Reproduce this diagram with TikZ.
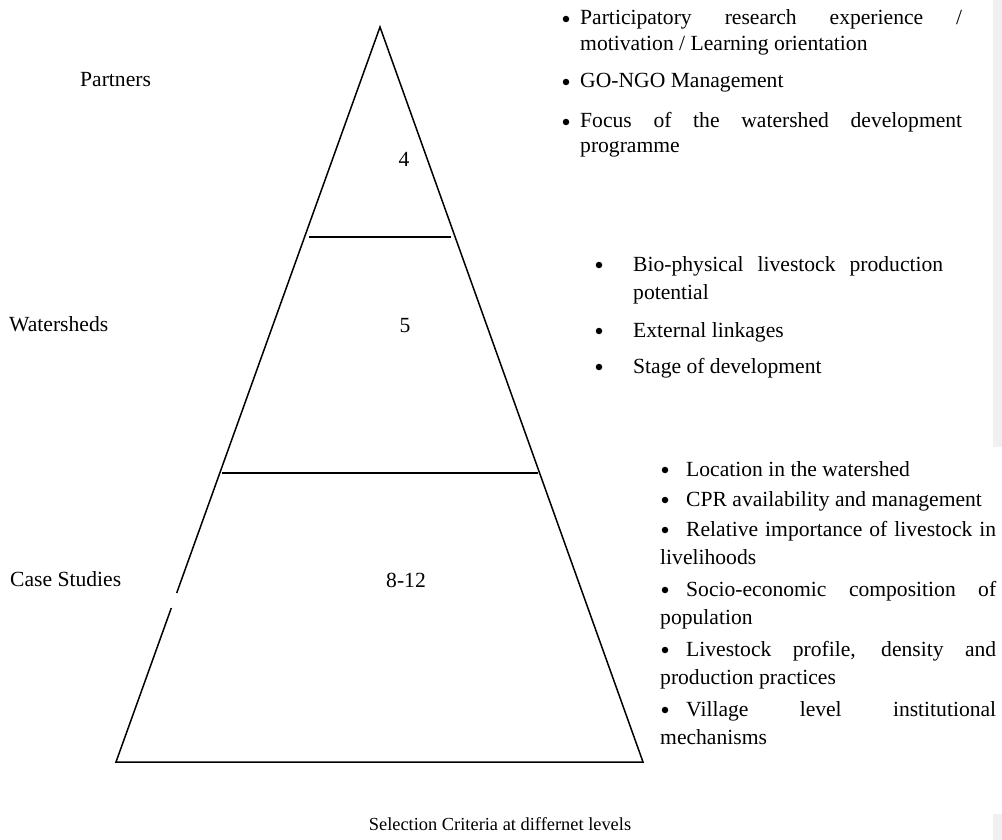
\documentclass[tikz,border=0pt]{standalone}
\usepackage{fontspec}
\setmainfont{Liberation Serif}
\begin{document}
\begin{tikzpicture}[x=1pt,y=-1pt,
  txt/.style={inner sep=0pt, anchor=base west, font=\fontsize{21.6}{26}\selectfont},
  ctr/.style={inner sep=0pt, anchor=base, font=\fontsize{21.6}{26}\selectfont},
  bul/.style={circle, fill=black, inner sep=0pt, minimum size=6.5pt},
  pyr/.style={line width=1.5pt},
  strip/.style={fill=black!6},
]
\useasboundingbox (0,0) rectangle (1002,840);
\fill[strip] (993,0) rectangle (1002,447);
\fill[strip] (993,814) rectangle (1002,840);

% pyramid
\coordinate (apex) at (380,27);
\coordinate (bl) at (116,762);
\coordinate (br) at (643,762);
\coordinate (gapT) at (176.7,593);
\coordinate (gapB) at (171.3,608);
\draw[pyr, line join=miter] (gapT) -- (apex) -- (br) -- (bl) -- (gapB);
\coordinate (l1a) at (309,237);
\coordinate (l1b) at (451,237);
\coordinate (l2a) at (222,473);
\coordinate (l2b) at (538,473);
\draw[pyr] (l1a) -- (l1b);
\draw[pyr] (l2a) -- (l2b);

% level labels
\node[txt] (partners) at (80,87) {Partners};
\node[txt] (watersheds) at (9,331) {Watersheds};
\node[txt] (cases) at (10,586) {Case Studies};
\node[ctr] (n4) at (404,167) {4};
\node[ctr] (n5) at (405,332) {5};
\node[ctr] (n812) at (406,587) {8-12};
\node[ctr, font=\fontsize{18.4}{22}\selectfont] (caption) at (500,830) {Selection Criteria at differnet levels};

% top list
\node[bul] (tb1) at (566,19) {};
\node[txt] (t1) at (580,25) {\makebox[382pt][s]{Participatory research experience /}};
\node[txt] (t1b) at (580,51) {motivation / Learning orientation};
\node[bul] (tb2) at (566,82) {};
\node[txt] (t2) at (580,88) {GO-NGO Management};
\node[bul] (tb3) at (566,122) {};
\node[txt] (t3) at (580,128) {\makebox[382pt][s]{Focus of the watershed development}};
\node[txt] (t3b) at (580,153) {programme};

% middle list
\node[bul] (mb1) at (599,265) {};
\node[txt] (m1) at (633,271) {\makebox[310pt][s]{Bio-physical livestock production}};
\node[txt] (m1b) at (633,299) {potential};
\node[bul] (mb2) at (599,331) {};
\node[txt] (m2) at (633,337) {External linkages};
\node[bul] (mb3) at (599,367) {};
\node[txt] (m3) at (633,373) {Stage of development};

% bottom list
\node[bul] (bb1) at (665,470) {};
\node[txt] (b1) at (686,476) {Location in the watershed};
\node[bul] (bb2) at (665,500) {};
\node[txt] (b2) at (686,506) {CPR availability and management};
\node[bul] (bb3) at (665,530) {};
\node[txt] (b3) at (686,536) {\makebox[310pt][s]{Relative importance of livestock in}};
\node[txt] (b3b) at (660,564) {livelihoods};
\node[bul] (bb4) at (665,590) {};
\node[txt] (b4) at (686,596) {\makebox[310pt][s]{Socio-economic composition of}};
\node[txt] (b4b) at (660,624) {population};
\node[bul] (bb5) at (665,650) {};
\node[txt] (b5) at (686,656) {\makebox[310pt][s]{Livestock profile, density and}};
\node[txt] (b5b) at (660,684) {production practices};
\node[bul] (bb6) at (665,710) {};
\node[txt] (b6) at (686,716) {\makebox[310pt][s]{Village level institutional}};
\node[txt] (b6b) at (660,744) {mechanisms};
\end{tikzpicture}
\end{document}
